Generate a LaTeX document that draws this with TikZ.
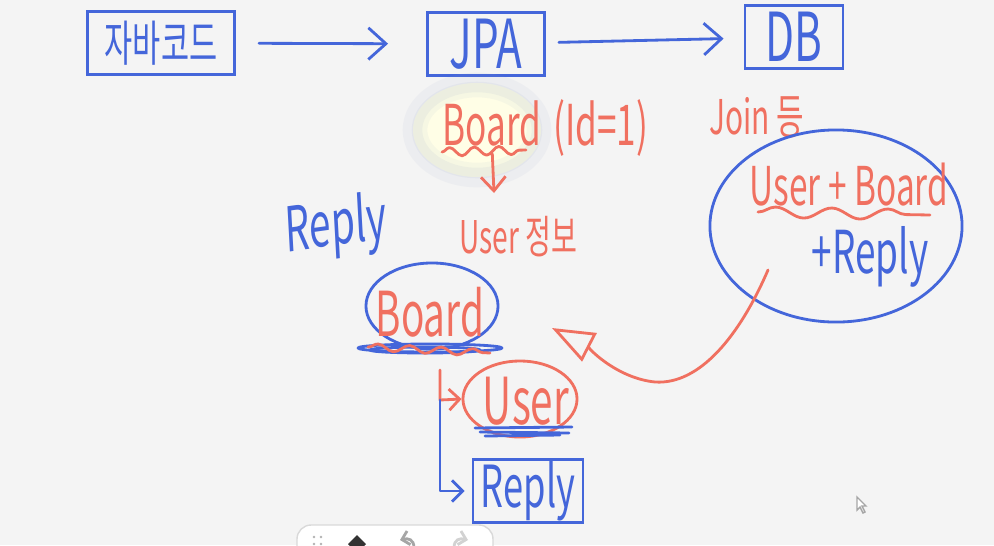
\documentclass[tikz,border=0pt]{standalone}
\usepackage{fontspec}
\setmainfont{Noto Sans CJK KR}
\usepackage{xcolor}
\usetikzlibrary{arrows.meta, shapes.geometric, decorations.pathmorphing}
\definecolor{penblue}{RGB}{68,102,218}
\definecolor{penred}{RGB}{240,112,96}
\definecolor{paper}{RGB}{244,244,244}
\definecolor{halo}{RGB}{150,165,200}

\begin{document}
\begin{tikzpicture}[
      x=0.01cm, y=-0.01cm,
      pen/.style={line width=0.8pt, line cap=round, line join=round},
      bpen/.style={pen, draw=penblue},
      rpen/.style={pen, draw=penred},
      hand/.style={inner sep=0pt, yscale=1.6},
      bword/.style={hand, text=penblue},
      rword/.style={hand, text=penred},
      bbox/.style={bword, draw=penblue, line width=0.8pt, minimum height=0.39cm},
      blob/.style={ellipse, inner sep=0pt, line width=0.8pt},
      arr/.style={-{Straight Barb[length=5pt, width=9pt]}},
      wave/.style={decorate, decoration={snake, amplitude=1.2pt, segment length=7pt}}
    ]
    \fill[paper] (0,0) rectangle (994,545);
    \useasboundingbox (0,0) rectangle (994,545);

    % top row
    \node[bbox, minimum width=1.47cm, font=\fontsize{8.7}{9}\selectfont] (java) at (161,43) {자바코드};
    \node[bbox, minimum width=1.17cm, font=\fontsize{12}{12}\selectfont] (jpa) at (486,44) {JPA};
    \node[bbox, minimum width=0.98cm, font=\fontsize{12}{12}\selectfont] (db) at (794,37) {DB};
    \draw[bpen, arr, shorten <=0.23cm, shorten >=0.38cm] (java) -- (jpa);
    \draw[bpen, arr, shorten <=0.13cm, shorten >=0.2cm] (jpa) -- (db);

    % Board (Id=1)
    \fill[yellow!10] (477,130) ellipse [x radius=64, y radius=47];
    \draw[halo, opacity=0.08, line width=7pt] (477,130) ellipse [x radius=62, y radius=45];
    \draw[halo, opacity=0.1, line width=3pt] (477,130) ellipse [x radius=60, y radius=43];
    \node[rword, font=\fontsize{10}{10}\selectfont] (boardq) at (492,123) {Board};
    \node[rword, font=\fontsize{10}{10}\selectfont, anchor=base west] (idq)
      at ([xshift=3pt]boardq.base east) {(Id=1)};
    \draw[rpen, wave] (442,152) -- (526,150);
    \coordinate (pick) at (494,193);
    \draw[rpen, -{Straight Barb[length=4pt, width=7pt]}, shorten <=2pt] (boardq.south) -- (pick);
    \node[rword, font=\fontsize{8}{8}\selectfont] (userinfo) at (518,237) {User 정보};
    \node[rword, font=\fontsize{8.5}{8.5}\selectfont] (joinq) at (757,117) {Join 등};
    \node[bword, font=\fontsize{11}{11}\selectfont, rotate=5] (replyq) at (336,228) {Reply};

    % join result
    \node[blob, draw=penblue, minimum width=2.52cm, minimum height=1.92cm] (joinblob) at (836,226) {};
    \node[rword, font=\fontsize{9.5}{9.5}\selectfont] (ubq) at (849,185) {User + Board};
    \draw[rpen, wave, decoration={segment length=16pt, amplitude=1.5pt}] (758,212) -- (930,215);
    \node[bword, font=\fontsize{10.5}{10.5}\selectfont] (plusreply) at (870,257) {+Reply};

    % object tree
    \node[blob, draw=penblue, minimum width=1.32cm, minimum height=0.86cm] (boardblob) at (432,306) {};
    \node[rword, font=\fontsize{11}{11}\selectfont] (board) at (430,312) {Board};
    \draw[bpen] (430,348) ellipse [x radius=72, y radius=4];
    \draw[bpen] (425,350) ellipse [x radius=55, y radius=3];
    \draw[rpen, wave, decoration={amplitude=1pt, segment length=9pt}] (368,347) -- (490,353);
    \node[blob, draw=penred, minimum width=1.14cm, minimum height=0.76cm] (userblob) at (520,399) {};
    \node[rword, font=\fontsize{11.5}{11.5}\selectfont] (user) at (526,401) {User};
    \draw[bpen] (475,428) -- (572,427);
    \draw[bpen] (480,432) -- (569,433);
    \draw[bpen] (485,436) -- (560,435);
    \node[bbox, minimum width=1.1cm, font=\fontsize{10.3}{10.3}\selectfont] (replybox) at (528,491) {Reply};
    \coordinate (stem) at (440,370);
    \coordinate (fork) at (440,400);
    \draw[rpen, -{Straight Barb[length=3pt, width=6pt]}] (stem) -- (fork) -- (userblob.west);
    \draw[bpen, -{Straight Barb[length=3pt, width=6pt]}, shorten >=2pt] (fork) |- (replybox.west);

    % join back to board
    \coordinate (joinfoot) at (768,270);
    \coordinate (boardtip) at (552,328);
    \draw[rpen, -{Triangle[open, length=12pt, width=9pt]}] (joinfoot)
      .. controls (740,335) and (700,385) .. (655,382)
      .. controls (615,378) and (585,345) .. (boardtip);

    % toolbar and cursor
    \draw[gray!30, fill=white, rounded corners=4pt] (297,525) rectangle (493,580);
    \foreach \px/\py in {314/537, 321/537, 314/544, 321/544}
      \fill[gray!60] (\px,\py) circle [radius=1.3];
    \fill[black!80] (357,535) -- (366,544) -- (357,553) -- (348,544) -- cycle;
    \draw[gray!70, line width=0.8pt, -{Straight Barb[length=2pt, width=4pt]}]
      (414,548) .. controls (414,539) and (408,538) .. (400,540);
    \draw[gray!35, line width=0.8pt, -{Straight Barb[length=2pt, width=4pt]}]
      (454,548) .. controls (454,539) and (460,538) .. (468,540);
    \draw[gray!70, fill=white, line width=0.4pt] (857,497) -- (857,510) -- (860,507)
      -- (863,513) -- (865,512) -- (862,506) -- (866,506) -- cycle;
  \end{tikzpicture}
\end{document}
